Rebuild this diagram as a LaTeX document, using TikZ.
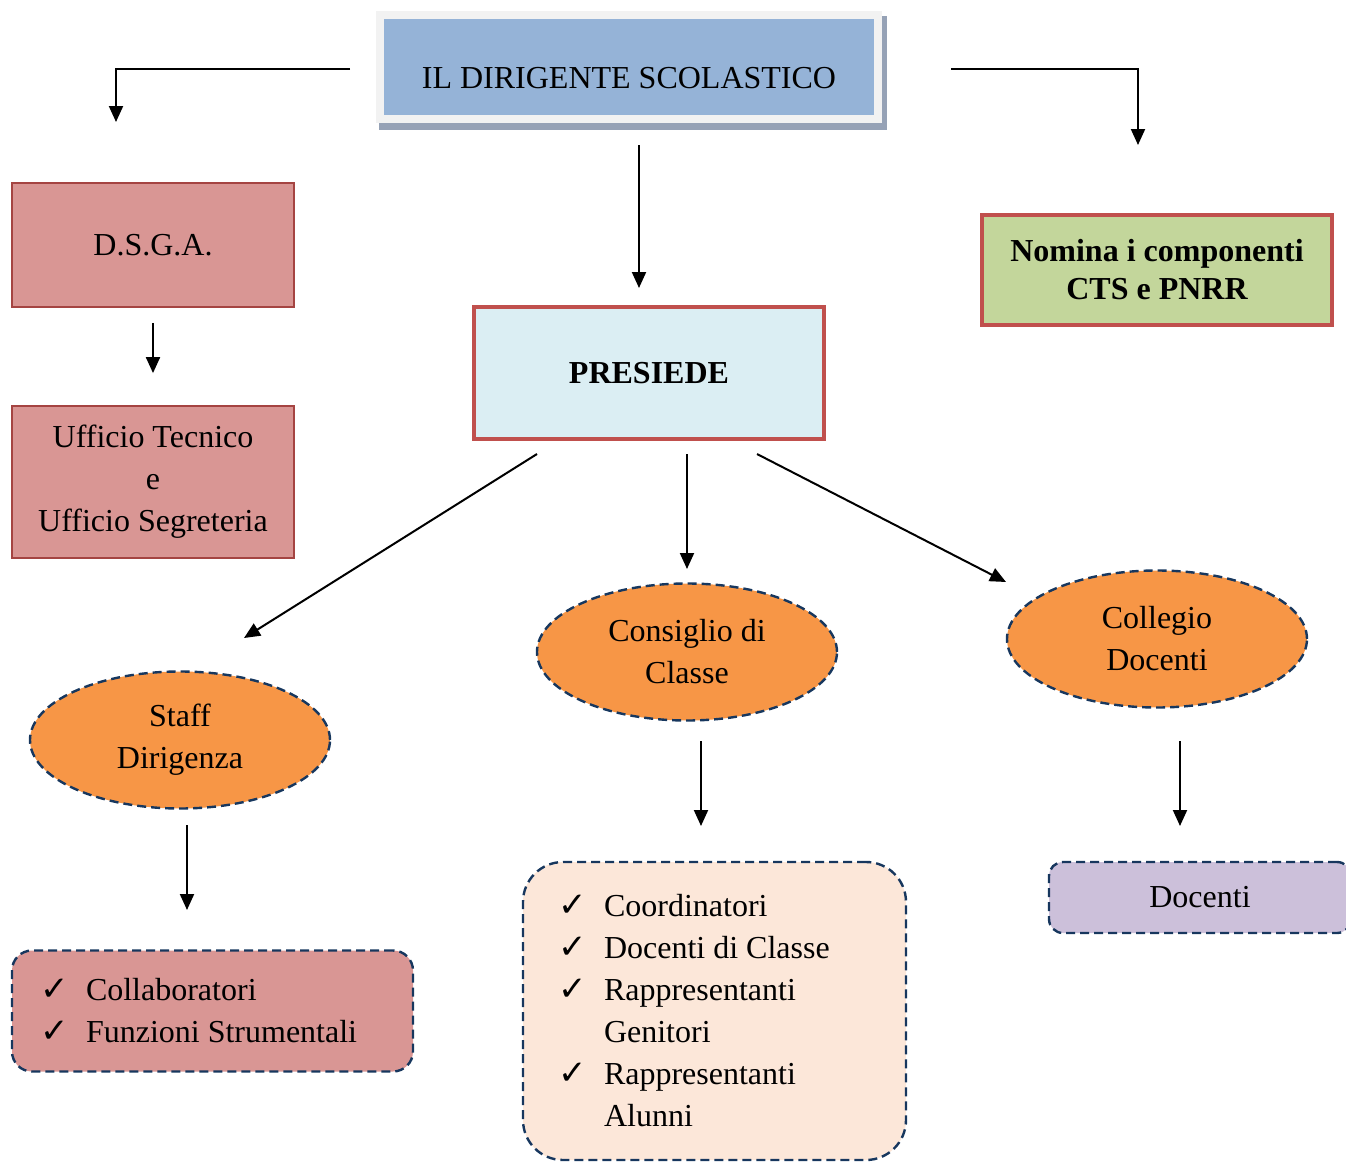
\documentclass[tikz,border=0pt]{standalone}
\usepackage{fontspec}
\setmainfont{Liberation Serif}
\newfontfamily\symfont{DejaVu Sans}
\usetikzlibrary{arrows.meta,shapes.geometric}

\definecolor{dirblue}{RGB}{149,179,215}
\definecolor{framegray}{RGB}{242,242,242}
\definecolor{shadowgray}{RGB}{150,162,182}
\definecolor{dsgared}{RGB}{217,150,148}
\definecolor{dsgaline}{RGB}{165,68,66}
\definecolor{boldred}{RGB}{192,80,77}
\definecolor{presblue}{RGB}{219,238,243}
\definecolor{nomgreen}{RGB}{195,214,155}
\definecolor{ellorange}{RGB}{247,150,70}
\definecolor{navyline}{RGB}{23,55,94}
\definecolor{peach}{RGB}{252,231,217}
\definecolor{lilac}{RGB}{204,192,218}

\newcommand{\ck}{\makebox[23pt][l]{\symfont\fontsize{17}{21}\selectfont ✓}}
\newcommand{\nock}{\makebox[23pt][l]{}}

\tikzset{
  arr/.style={line width=1pt,-{Triangle[length=8pt,width=7pt]}},
  dsgabox/.style={draw=dsgaline,line width=0.9pt,fill=dsgared,minimum width=141pt,inner sep=0pt,align=center},
  boldbox/.style={draw=boldred,line width=2pt,fill=#1,minimum width=175pt,inner sep=0pt,align=center,font=\fontsize{16}{19}\selectfont\bfseries},
  orgell/.style={ellipse,draw=navyline,line width=1.2pt,dash pattern=on 4.5pt off 2.5pt,fill=ellorange,minimum width=150pt,minimum height=68.5pt,inner sep=0pt,align=center},
  listbox/.style={draw=navyline,line width=1.2pt,dash pattern=on 4.5pt off 2.5pt,fill=#1,inner ysep=0pt,align=flush left}
}

\begin{document}
\begin{tikzpicture}[x=0.5pt,y=0.5pt,yscale=-1,xscale=1,font=\fontsize{16}{21}\selectfont]
    \useasboundingbox (0,0) rectangle (1346,1162);

    % Shape: top box shadow
    \fill[shadowgray] (379,16) rectangle (887,130);
    % Text Node
    \node (dir) [draw=framegray,line width=4pt,fill=dirblue,minimum width=249pt,minimum height=52pt,inner sep=0pt,text depth=0pt] at (629,67) {\rule{0pt}{21pt}IL DIRIGENTE SCOLASTICO};

    % Text Node
    \node (dsga) [dsgabox,minimum height=62pt] at (153,245) {D.S.G.A.};
    % Text Node
    \node (uff) [dsgabox,minimum height=76pt] at (153,482) {Ufficio Tecnico\\e\\Ufficio Segreteria};
    % Text Node
    \node (nom) [boldbox=nomgreen,minimum height=55pt] at (1157,270) {Nomina i componenti\\CTS e PNRR};
    % Text Node
    \node (pres) [boldbox=presblue,minimum height=66pt] at (649,373) {PRESIEDE};

    % Ellipses
    \node (staff) [orgell] at (180,740) {Staff\\Dirigenza};
    \node (cons) [orgell] at (687,652) {Consiglio di\\Classe};
    \node (coll) [orgell] at (1157,639) {Collegio\\Docenti};

    % Lists
    \node (collab) [listbox=dsgared,rounded corners=10pt,minimum height=60.5pt,inner xsep=14pt,text width=172.5pt] at (212.5,1011)
      {\ck Collaboratori\\\ck Funzioni Strumentali};
    \node (coord) [listbox=peach,rounded corners=20pt,minimum height=149pt,inner xsep=17.5pt,text width=156.5pt] at (714.5,1011)
      {\ck Coordinatori\\\ck Docenti di Classe\\\ck Rappresentanti\\\nock Genitori\\\ck Rappresentanti\\\nock Alunni};
    \node (doc) [listbox=lilac,rounded corners=7pt,minimum height=35.5pt,minimum width=151pt,inner xsep=0pt,align=center] at (1200,897.5) {Docenti};

    % Arrow ends
    \coordinate (dl) at (350,69);  \coordinate (dle) at (116,122);
    \coordinate (dr) at (951,69);  \coordinate (dre) at (1138,145);
    \coordinate (dc) at (639,145); \coordinate (dce) at (639,288);
    \coordinate (pl) at (537,454); \coordinate (ple) at (244,638);
    \coordinate (pc) at (687,454); \coordinate (pce) at (687,569);
    \coordinate (pr) at (757,454); \coordinate (pre) at (1006,582);
    \coordinate (sa) at (187,825); \coordinate (sae) at (187,910);
    \coordinate (ca) at (701,741); \coordinate (cae) at (701,826);
    \coordinate (ga) at (1180,741); \coordinate (gae) at (1180,826);

    %Straight Lines
    \draw[arr] (dl) -| (dle);
    \draw[arr] (dr) -| (dre);
    \draw[arr] (dc) -- (dce);
    \draw[arr,shorten <=7.5pt,shorten >=16pt] (dsga.south) -- (uff.north);
    \draw[arr] (pl) -- (ple);
    \draw[arr] (pc) -- (pce);
    \draw[arr] (pr) -- (pre);
    \draw[arr] (sa) -- (sae);
    \draw[arr] (ca) -- (cae);
    \draw[arr] (ga) -- (gae);
\end{tikzpicture}
\end{document}
